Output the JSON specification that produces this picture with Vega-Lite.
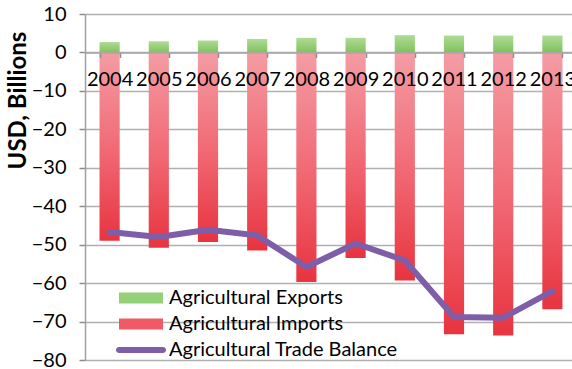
{
  "$schema": "https://vega.github.io/schema/vega-lite/v6.json",
  "width": 492,
  "height": 346,
  "autosize": {"type": "none"},
  "padding": {"left": 85, "top": 14, "right": 0, "bottom": 9},
  "background": "white",
  "config": {
    "view": {"stroke": null},
    "font": "Lato",
    "axis": {"labelFont": "Lato", "labelColor": "#000000", "titleFont": "Lato", "titleColor": "#000000"}
  },
  "data": {
    "values": [
      {"year": "2004", "series": "Agricultural Exports", "value": 2.7},
      {"year": "2005", "series": "Agricultural Exports", "value": 2.9},
      {"year": "2006", "series": "Agricultural Exports", "value": 3.1},
      {"year": "2007", "series": "Agricultural Exports", "value": 3.5},
      {"year": "2008", "series": "Agricultural Exports", "value": 3.8},
      {"year": "2009", "series": "Agricultural Exports", "value": 3.8},
      {"year": "2010", "series": "Agricultural Exports", "value": 4.5},
      {"year": "2011", "series": "Agricultural Exports", "value": 4.4},
      {"year": "2012", "series": "Agricultural Exports", "value": 4.4},
      {"year": "2013", "series": "Agricultural Exports", "value": 4.4},
      {"year": "2004", "series": "Agricultural Imports", "value": -49.0},
      {"year": "2005", "series": "Agricultural Imports", "value": -50.8},
      {"year": "2006", "series": "Agricultural Imports", "value": -49.3},
      {"year": "2007", "series": "Agricultural Imports", "value": -51.5},
      {"year": "2008", "series": "Agricultural Imports", "value": -59.7},
      {"year": "2009", "series": "Agricultural Imports", "value": -53.5},
      {"year": "2010", "series": "Agricultural Imports", "value": -59.3},
      {"year": "2011", "series": "Agricultural Imports", "value": -73.3},
      {"year": "2012", "series": "Agricultural Imports", "value": -73.6},
      {"year": "2013", "series": "Agricultural Imports", "value": -66.8},
      {"year": "2004", "series": "Agricultural Trade Balance", "value": -46.7},
      {"year": "2005", "series": "Agricultural Trade Balance", "value": -48.0},
      {"year": "2006", "series": "Agricultural Trade Balance", "value": -46.1},
      {"year": "2007", "series": "Agricultural Trade Balance", "value": -47.6},
      {"year": "2008", "series": "Agricultural Trade Balance", "value": -55.8},
      {"year": "2009", "series": "Agricultural Trade Balance", "value": -49.7},
      {"year": "2010", "series": "Agricultural Trade Balance", "value": -54.1},
      {"year": "2011", "series": "Agricultural Trade Balance", "value": -68.8},
      {"year": "2012", "series": "Agricultural Trade Balance", "value": -69.0},
      {"year": "2013", "series": "Agricultural Trade Balance", "value": -62.1}
    ]
  },
  "encoding": {
    "x": {
      "field": "year",
      "type": "ordinal",
      "scale": {"paddingInner": 0.59, "paddingOuter": 0.295},
      "axis": {
        "title": null,
        "orient": "bottom",
        "offset": -307.6,
        "zindex": 1,
        "labelAngle": 0,
        "labelFontSize": 20,
        "labelPadding": 12,
        "labelBaseline": "top",
        "tickBand": "extent",
        "tickSize": 5,
        "tickColor": "#8c8c8c",
        "tickWidth": 1.5,
        "domainColor": "#a6a6a6",
        "domainWidth": 1.5,
        "grid": false
      }
    },
    "y": {
      "field": "value",
      "type": "quantitative",
      "scale": {"domain": [-80, 10], "nice": false, "zero": false},
      "axis": {
        "values": [-80, -70, -60, -50, -40, -30, -20, -10, 0, 10],
        "title": "USD, Billions",
        "titleFontSize": 24,
        "titleFontWeight": "bold",
        "titleAngle": -90,
        "titleX": -67,
        "titleY": 86,
        "titleAlign": "center",
        "titleBaseline": "middle",
        "labelFontSize": 20,
        "labelPadding": 13,
        "tickSize": 6,
        "tickColor": "#8c8c8c",
        "tickWidth": 1.5,
        "domainColor": "#a0a0a0",
        "domainWidth": 1.5,
        "grid": true,
        "gridColor": "#b0b0b0",
        "gridWidth": 1.5
      }
    }
  },
  "layer": [
    {
      "transform": [{"filter": "datum.series === 'Agricultural Exports'"}],
      "mark": {
        "type": "bar",
        "fill": {"gradient": "linear", "x1": 0, "y1": 0, "x2": 0, "y2": 1,
          "stops": [{"offset": 0, "color": "#b0db95"}, {"offset": 1, "color": "#7ec35c"}]}
      }
    },
    {
      "transform": [{"filter": "datum.series === 'Agricultural Imports'"}],
      "mark": {
        "type": "bar",
        "fill": {"gradient": "linear", "x1": 0, "y1": 0, "x2": 0, "y2": 1,
          "stops": [{"offset": 0, "color": "#f49ca4"}, {"offset": 0.5, "color": "#f16b76"}, {"offset": 1, "color": "#e8343f"}]}
      }
    },
    {
      "transform": [{"filter": "datum.series === 'Agricultural Trade Balance'"}],
      "mark": {"type": "line", "color": "#7e5ea8", "strokeWidth": 6, "strokeJoin": "round", "strokeCap": "round"}
    },
    {
      "mark": {"type": "point", "filled": true, "size": 0, "opacity": 1, "strokeWidth": 0},
      "encoding": {
        "color": {
          "field": "series",
          "type": "nominal",
          "scale": {
            "domain": ["Agricultural Exports", "Agricultural Imports", "Agricultural Trade Balance"],
            "range": ["#94d076", "#ef5a64", "#7e5ea8"]
          },
          "legend": {
            "title": null,
            "orient": "none",
            "legendX": 45,
            "legendY": 273,
            "padding": 0,
            "symbolSize": 400,
            "labelFontSize": 20,
            "labelFont": "Lato",
            "labelColor": "#000000",
            "labelLimit": 0,
            "labelOffset": 17,
            "rowPadding": 5,
            "symbolOpacity": 1
          }
        },
        "shape": {
          "field": "series",
          "type": "nominal",
          "scale": {
            "domain": ["Agricultural Exports", "Agricultural Imports", "Agricultural Trade Balance"],
            "range": [
              "M-2.2,-0.55H2.2V0.55H-2.2Z",
              "M-2.2,-0.55H2.2V0.55H-2.2Z",
              "M-2.2,-0.3H2.2A0.3,0.3 0 0 1 2.2,0.3H-2.2A0.3,0.3 0 0 1 -2.2,-0.3Z"
            ]
          }
        }
      }
    }
  ]
}
